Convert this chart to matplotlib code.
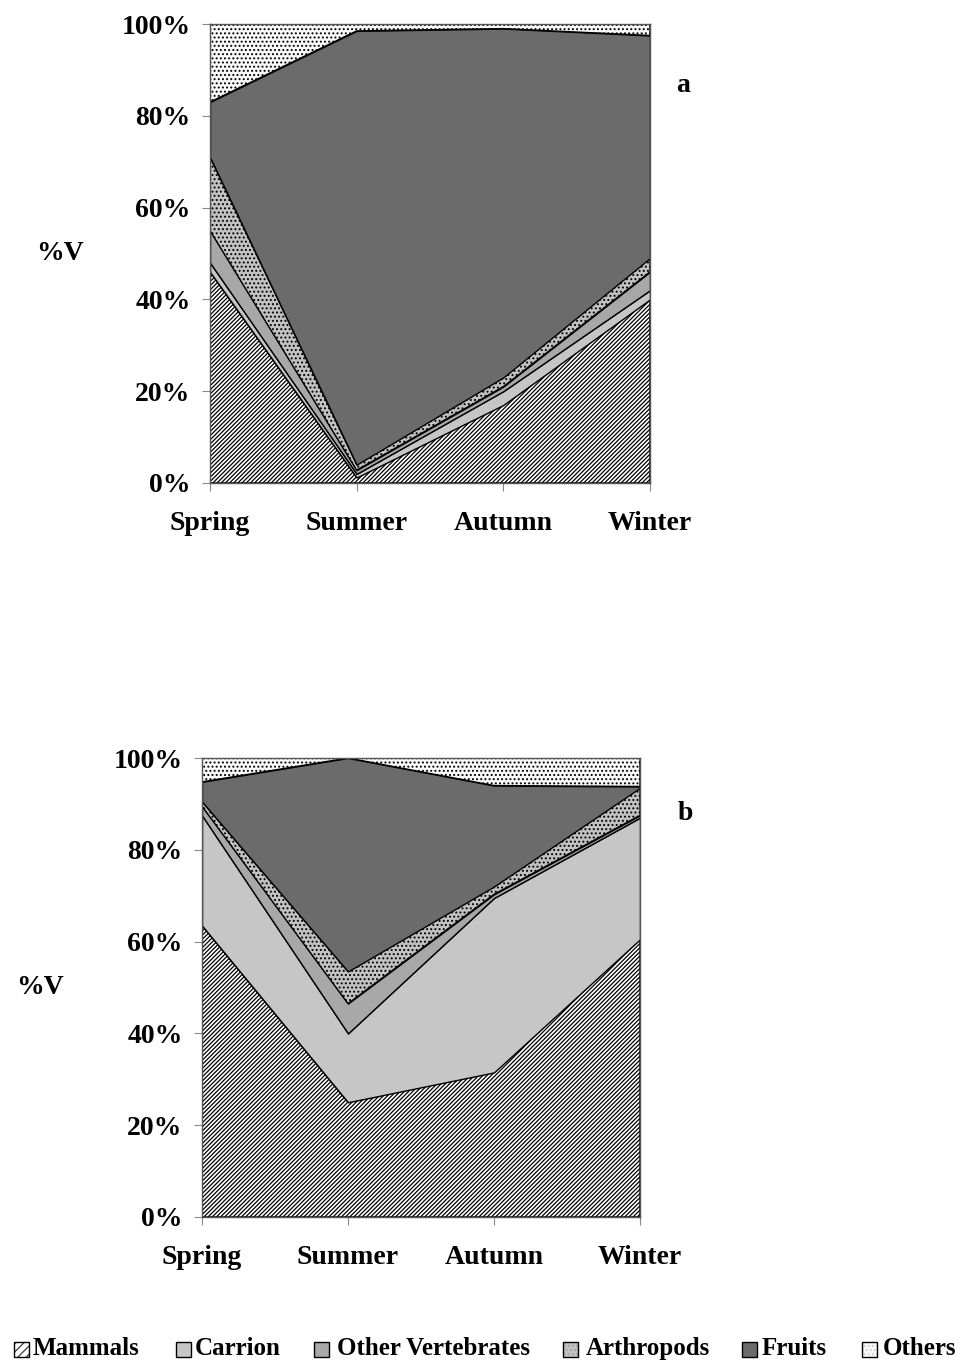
import matplotlib
matplotlib.use("Agg")
import matplotlib.pyplot as plt
from matplotlib.patches import Rectangle
from matplotlib.colors import to_rgba
import numpy as np

plt.rcParams['hatch.linewidth'] = 0.9

seasons = ["Spring", "Summer", "Autumn", "Winter"]
categories = ["Mammals", "Carrion", "Other Vertebrates", "Arthropods", "Fruits", "Others"]

# Panel a (% volume)
a_mammals = [46, 1.2, 17, 40]
a_carrion = [2, 0.8, 3, 2]
a_other_vert = [7, 0.8, 1, 4]
a_arthropods = [16, 1.2, 2, 3]
a_fruits = [12, 94.5, 76, 48.5]
a_others = [17, 1.5, 1, 2.5]

# Panel b (% volume)
b_mammals = [63.5, 25, 31.5, 60.5]
b_carrion = [24, 15, 38, 26.5]
b_other_vert = [2, 6.5, 0.8, 0.5]
b_arthropods = [1, 7, 1.7, 6]
b_fruits = [4.3, 46.5, 22, 0.3]
b_others = [5.2, 0, 6, 6.2]

fills = ["white", "#c6c6c6", "#a8a8a8", "#c2c2c2", "#6b6b6b", "#fafafa"]
hatches = ["////////", None, None, "....", None, "...."]
hatch_colors = ["#3a3a3a", None, None, "#a2a2a2", None, "#cdcdcd"]

serif = ["Liberation Serif", "DejaVu Serif"]
FS = 20

fig = plt.figure(figsize=(9.61, 13.61), dpi=100)
W, H = 961, 1361


def make_axes(left, right, top, bottom):
    return fig.add_axes([left / W, 1 - bottom / H, (right - left) / W, (bottom - top) / H])


def draw(ax, layers, letter, ylab_x, letter_xy):
    x = np.arange(len(seasons))
    polys = ax.stackplot(x, *layers, colors=fills, edgecolor="black", linewidth=1.0)
    for p, h, hc in zip(polys, hatches, hatch_colors):
        if h:
            p.set_hatch(h)
            p._hatch_color = to_rgba(hc)
    ax.set_xlim(0, 3)
    ax.set_ylim(0, 100)
    ax.set_xticks(x)
    ax.set_xticklabels(seasons, fontfamily=serif, fontweight="bold", fontsize=FS)
    ax.set_yticks([0, 20, 40, 60, 80, 100])
    ax.set_yticklabels([f"{v}%" for v in [0, 20, 40, 60, 80, 100]],
                       fontfamily=serif, fontweight="bold", fontsize=FS)
    ax.tick_params(axis="both", direction="out", length=6, width=0.8, color="#888888")
    ax.tick_params(axis="x", pad=14)
    ax.tick_params(axis="y", pad=8)
    for s in ax.spines.values():
        s.set_linewidth(1.0)
        s.set_color("#555555")
    ax.set_ylabel("%V", rotation=0, fontfamily=serif, fontweight="bold", fontsize=FS,
                  va="center", ha="center")
    ax.yaxis.set_label_coords(ylab_x, 0.5)
    ax.text(letter_xy[0], letter_xy[1], letter, transform=ax.transAxes,
            fontfamily=serif, fontweight="bold", fontsize=FS, ha="center", va="center")


ax_a = make_axes(210, 650, 24, 483)
draw(ax_a, [a_mammals, a_carrion, a_other_vert, a_arthropods, a_fruits, a_others], "a",
     -0.34, (1.075, 0.865))

ax_b = make_axes(202, 640, 758, 1217)
draw(ax_b, [b_mammals, b_carrion, b_other_vert, b_arthropods, b_fruits, b_others], "b",
     -0.37, (1.103, 0.88))

# Legend row (placed in figure pixels)
handle_x = [14, 176, 314, 563, 742, 862]
text_x = [33, 195, 337, 586, 762, 883]
box = 15
baseline_y = 1355
for c, f, h, hc, hx, tx in zip(categories, fills, hatches, hatch_colors, handle_x, text_x):
    r = Rectangle((hx / W, 1 - 1357 / H), box / W, box / H, transform=fig.transFigure,
                  facecolor=f, edgecolor="black", linewidth=1.0,
                  hatch=(h[:4] if h else None))
    fig.add_artist(r)
    if hc:
        r._hatch_color = to_rgba(hc)
    fig.text(tx / W, 1 - baseline_y / H, c, fontfamily=serif, fontweight="bold",
             fontsize=18, ha="left", va="baseline")

fig.savefig("out.png", dpi=100)
